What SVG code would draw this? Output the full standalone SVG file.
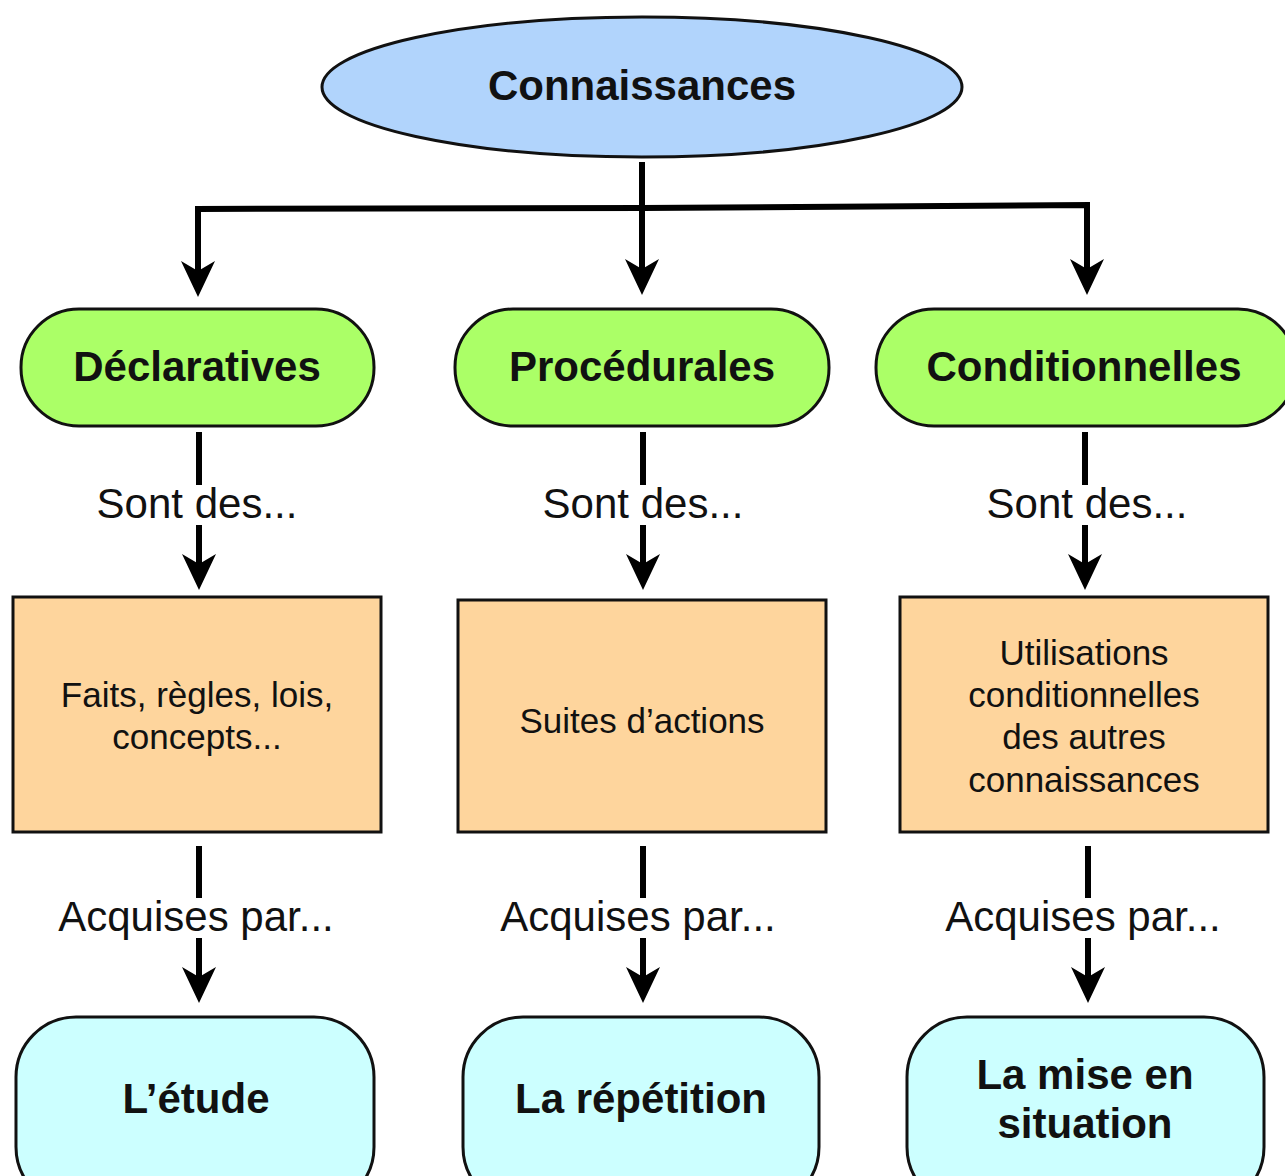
<svg xmlns="http://www.w3.org/2000/svg" width="1285" height="1176" viewBox="0 0 1285 1176">
<style>
.bg{fill:#ffffff}
.shape{stroke:#111;stroke-width:3}
.root{fill:#b1d4fc}
.type{fill:#abff67}
.desc{fill:#fed59d}
.meth{fill:#ccffff}
.bold{font-family:"Liberation Sans",Arial,sans-serif;font-weight:bold;font-size:42px;fill:#111;text-anchor:middle}
.reg{font-family:"Liberation Sans",Arial,sans-serif;font-size:35px;fill:#111;text-anchor:middle}
.lbl{font-family:"Liberation Sans",Arial,sans-serif;font-size:42px;fill:#111;text-anchor:middle}
.conn{fill:none;stroke:#000;stroke-width:6}
</style>
<defs>
<marker id="arr" markerUnits="userSpaceOnUse" viewBox="0 0 36 34" markerWidth="36" markerHeight="34" refX="16" refY="17" orient="auto">
<path d="M0,0 L36,17 L0,34 L10,17 z" fill="#000"/>
</marker>
</defs>
<rect class="bg" x="0" y="0" width="1285" height="1176"/>

<g id="connectors">
<path class="conn" d="M642,162 L642,275" marker-end="url(#arr)"/>
<path class="conn" d="M642,208 L198,209 L198,277" marker-end="url(#arr)"/>
<path class="conn" d="M642,208 L1087,205 L1087,275" marker-end="url(#arr)"/>

<path class="conn" d="M199,432 L199,485"/>
<path class="conn" d="M199,525 L199,570" marker-end="url(#arr)"/>
<path class="conn" d="M643,432 L643,485"/>
<path class="conn" d="M643,525 L643,570" marker-end="url(#arr)"/>
<path class="conn" d="M1085,432 L1085,485"/>
<path class="conn" d="M1085,525 L1085,570" marker-end="url(#arr)"/>

<path class="conn" d="M199,846 L199,898"/>
<path class="conn" d="M199,938 L199,983" marker-end="url(#arr)"/>
<path class="conn" d="M643,846 L643,898"/>
<path class="conn" d="M643,938 L643,983" marker-end="url(#arr)"/>
<path class="conn" d="M1088,846 L1088,898"/>
<path class="conn" d="M1088,938 L1088,983" marker-end="url(#arr)"/>

<text class="lbl" x="197" y="518">Sont des...</text>
<text class="lbl" x="643" y="518">Sont des...</text>
<text class="lbl" x="1087" y="518">Sont des...</text>
<text class="lbl" x="196" y="931">Acquises par...</text>
<text class="lbl" x="638" y="931">Acquises par...</text>
<text class="lbl" x="1083" y="931">Acquises par...</text>
</g>

<g id="connaissances">
<ellipse class="shape root" cx="642" cy="87" rx="320" ry="70"/>
<text class="bold" x="642" y="100">Connaissances</text>
</g>

<g id="declaratives">
<rect class="shape type" x="21" y="309" width="353" height="117" rx="58" ry="58"/>
<text class="bold" x="197" y="381">Déclaratives</text>
</g>
<g id="procedurales">
<rect class="shape type" x="455" y="309" width="374" height="117" rx="58" ry="58"/>
<text class="bold" x="642" y="381">Procédurales</text>
</g>
<g id="conditionnelles">
<rect class="shape type" x="876" y="309" width="420" height="117" rx="58" ry="58"/>
<text class="bold" x="1084" y="381">Conditionnelles</text>
</g>

<g id="faits">
<rect class="shape desc" x="13" y="597" width="368" height="235"/>
<text class="reg" x="197" y="707">Faits, règles, lois,</text>
<text class="reg" x="197" y="749">concepts...</text>
</g>
<g id="suites">
<rect class="shape desc" x="458" y="600" width="368" height="232"/>
<text class="reg" x="642" y="733">Suites d’actions</text>
</g>
<g id="utilisations">
<rect class="shape desc" x="900" y="597" width="368" height="235"/>
<text class="reg" x="1084" y="665">Utilisations</text>
<text class="reg" x="1084" y="707">conditionnelles</text>
<text class="reg" x="1084" y="749">des autres</text>
<text class="reg" x="1084" y="792">connaissances</text>
</g>

<g id="etude">
<rect class="shape meth" x="16" y="1017" width="358" height="190" rx="60" ry="60"/>
<text class="bold" x="196" y="1113">L’étude</text>
</g>
<g id="repetition">
<rect class="shape meth" x="463" y="1017" width="356" height="190" rx="60" ry="60"/>
<text class="bold" x="641" y="1113">La répétition</text>
</g>
<g id="situation">
<rect class="shape meth" x="907" y="1017" width="357" height="190" rx="60" ry="60"/>
<text class="bold" x="1085" y="1089">La mise en</text>
<text class="bold" x="1085" y="1138">situation</text>
</g>
</svg>
